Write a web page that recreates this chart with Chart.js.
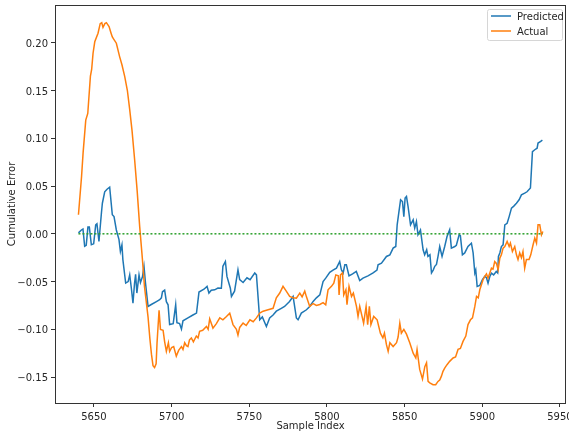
<!DOCTYPE html>
<html>
<head>
<meta charset="utf-8">
<script src="https://cdn.jsdelivr.net/npm/chart.js@4.4.0/dist/chart.umd.min.js"></script>
<style>
  html, body { margin: 0; padding: 0; background: #fff; }
  #wrap { width: 569px; height: 432px; }
</style>
</head>
<body>
<div id="wrap"><canvas id="errChart" width="569" height="432"></canvas></div>
<script>
// values
const predictedIdx = [5640, 5641.9, 5642.9, 5644, 5645, 5646.1, 5647, 5648.3, 5649.8, 5651.1, 5651.9, 5653.2, 5654.8, 5655.4, 5656.9, 5658.4, 5660.1, 5661.8, 5662.9, 5664.4, 5666.1, 5667, 5668, 5668.6, 5670.4, 5672, 5673, 5674.1, 5675.1, 5676.1, 5676.8, 5677.6, 5679, 5679.9, 5681.2, 5682.2, 5683.2, 5684.8, 5686.9, 5690.2, 5692.3, 5693.4, 5694.1, 5695.5, 5696.6, 5697.7, 5698.7, 5701, 5702.6, 5703.4, 5705.1, 5706.3, 5707.3, 5710.5, 5713.7, 5716, 5717.6, 5720.8, 5722.8, 5724, 5725.5, 5727.7, 5729.8, 5732, 5733, 5734.6, 5735.6, 5737.8, 5738.5, 5740.5, 5742.7, 5743.8, 5746, 5748.5, 5750.5, 5753.5, 5754.6, 5756.7, 5758.4, 5761, 5763.1, 5765.3, 5767.4, 5770.6, 5772.7, 5775.9, 5778.2, 5780.3, 5781.4, 5783.5, 5786.8, 5788.9, 5791.1, 5793.2, 5795.4, 5797.5, 5799.2, 5801.8, 5803.9, 5806.1, 5808.2, 5809.3, 5810.4, 5811.5, 5812.5, 5814.2, 5816.5, 5818.9, 5821.1, 5823.2, 5826.4, 5829.7, 5832.2, 5832.9, 5835.1, 5838.3, 5840.5, 5842.6, 5844.3, 5845.2, 5846.5, 5847.4, 5848.6, 5849.5, 5850.3, 5851.2, 5852.2, 5853.8, 5855.5, 5856.5, 5857.6, 5858.6, 5860.2, 5861.9, 5862.9, 5864.2, 5865, 5866.3, 5867.3, 5868.4, 5869.4, 5870.5, 5871.5, 5872.6, 5874.1, 5875.8, 5877.3, 5879, 5880.1, 5882.3, 5883.3, 5885.1, 5885.9, 5887.2, 5888.7, 5890.8, 5893, 5894.1, 5895.2, 5895.8, 5896.7, 5898.4, 5900.1, 5901.6, 5902.7, 5903.7, 5904.8, 5905.9, 5907.3, 5909, 5909.9, 5910.4, 5911.3, 5912.3, 5913.4, 5914.5, 5916, 5917.3, 5918.8, 5920.3, 5922, 5923.7, 5925.2, 5927.3, 5928.8, 5931, 5932.3, 5933.8, 5935.3, 5935.9, 5937.4, 5938.7];
const predictedErr = [0.001, 0.004, 0.005, -0.013, -0.012, 0.007, 0.007, -0.0115, -0.0105, 0.0094, 0.0105, -0.008, 0.022, 0.032, 0.044, 0.0467, 0.0488, 0.020, 0.018, 0.004, -0.006, -0.0185, -0.0115, -0.027, -0.0516, -0.050, -0.043, -0.0575, -0.0725, -0.052, -0.0425, -0.062, -0.043, -0.051, -0.045, -0.034, -0.052, -0.076, -0.074, -0.071, -0.069, -0.067, -0.0607, -0.059, -0.071, -0.0743, -0.095, -0.094, -0.0743, -0.093, -0.094, -0.0997, -0.091, -0.088, -0.085, -0.083, -0.061, -0.058, -0.055, -0.062, -0.059, -0.0586, -0.0568, -0.057, -0.034, -0.029, -0.0446, -0.057, -0.0656, -0.060, -0.0377, -0.048, -0.051, -0.046, -0.048, -0.041, -0.043, -0.090, -0.087, -0.097, -0.088, -0.085, -0.081, -0.078, -0.076, -0.0708, -0.0656, -0.088, -0.090, -0.083, -0.0795, -0.076, -0.0708, -0.067, -0.064, -0.050, -0.0464, -0.0404, -0.038, -0.036, -0.029, -0.0377, -0.041, -0.0324, -0.0324, -0.044, -0.042, -0.0394, -0.0489, -0.0464, -0.044, -0.041, -0.038, -0.0324, -0.0307, -0.0237, -0.022, -0.015, -0.0133, 0.0094, 0.025, 0.0356, 0.0338, 0.018, 0.0373, 0.039, 0.0286, 0.0094, 0.0146, 0.006, 0.0129, -0.001, 0.004, -0.0167, -0.022, -0.0167, -0.0237, -0.022, -0.041, -0.038, -0.034, -0.032, -0.0237, -0.0133, -0.0237, -0.0133, -0.0028, 0.0042, -0.015, -0.0133, -0.012, -0.001, -0.002, -0.022, -0.020, -0.0133, -0.0098, -0.020, -0.041, -0.038, -0.055, -0.054, -0.048, -0.0446, -0.046, -0.0516, -0.045, -0.0412, -0.043, -0.0394, -0.041, -0.0237, -0.020, -0.0133, -0.0115, 0.0094, 0.011, 0.018, 0.0269, 0.029, 0.032, 0.0356, 0.0408, 0.0425, 0.044, 0.048, 0.086, 0.088, 0.0896, 0.095, 0.0966, 0.098];

const actualIdx = [5640, 5642, 5643, 5644.7, 5646, 5647.7, 5648.5, 5649.4, 5650.5, 5652.6, 5654, 5655, 5655.8, 5657, 5658, 5659.7, 5661, 5661.8, 5663, 5664.4, 5666.5, 5668, 5669.8, 5671.5, 5673, 5674.5, 5676.2, 5677.8, 5679.4, 5681.2, 5682.5, 5684.8, 5686, 5687, 5688, 5689, 5690, 5690.6, 5691.9, 5692.8, 5694.5, 5695.5, 5696.6, 5697.9, 5698.7, 5700, 5701.3, 5703, 5704.5, 5706.3, 5707.3, 5708.4, 5709.5, 5710.5, 5711.5, 5712.7, 5714, 5715.9, 5717, 5718, 5720, 5722.4, 5723.5, 5724.5, 5726.6, 5728.8, 5731, 5733, 5735.3, 5737.4, 5739.5, 5741.7, 5742.7, 5743.8, 5746, 5748, 5750.4, 5752.5, 5754.6, 5756.7, 5758.9, 5762.1, 5765.3, 5767.4, 5769.6, 5771.7, 5773.8, 5776, 5778.1, 5780.3, 5782.5, 5784, 5785.7, 5786.8, 5788.9, 5791.1, 5793.2, 5795.4, 5797.5, 5799.2, 5800.7, 5802.9, 5804.4, 5805.7, 5807.3, 5807.8, 5808.7, 5810, 5810.8, 5812.2, 5812.9, 5814.2, 5815.8, 5817, 5819, 5820, 5821.1, 5823.6, 5825.2, 5826.2, 5827.3, 5828.3, 5830.1, 5832.3, 5834.4, 5836, 5837, 5838.3, 5839.4, 5840.5, 5842.6, 5844.8, 5845.8, 5846.9, 5847.9, 5849.5, 5851.2, 5853.3, 5855.5, 5857.2, 5858, 5859.7, 5861.5, 5863, 5864.1, 5865.1, 5866.2, 5868.3, 5870, 5871.5, 5872.6, 5873.7, 5874.7, 5875.8, 5877.3, 5879, 5881.2, 5882.8, 5884.4, 5885.9, 5887.6, 5889.4, 5890.8, 5892.4, 5893.7, 5895.2, 5896.3, 5897.4, 5898.4, 5899.5, 5900.5, 5901.6, 5902.7, 5903.7, 5905.9, 5906.9, 5908, 5909.1, 5910.2, 5911.3, 5912.3, 5913.4, 5914.5, 5916, 5917.3, 5918.1, 5919.4, 5920.9, 5922, 5923, 5924.1, 5925.2, 5926.2, 5927.3, 5928.4, 5930.1, 5931.2, 5932.7, 5933.8, 5934.9, 5935.9, 5937, 5938.1, 5939];
const actualErr = [0.020, 0.060, 0.085, 0.119, 0.126, 0.165, 0.172, 0.189, 0.201, 0.210, 0.220, 0.221, 0.216, 0.220, 0.221, 0.217, 0.210, 0.206, 0.203, 0.1995, 0.1855, 0.177, 0.1645, 0.150, 0.130, 0.108, 0.077, 0.045, 0.008, -0.027, -0.055, -0.087, -0.110, -0.126, -0.138, -0.140, -0.136, -0.114, -0.080, -0.100, -0.101, -0.113, -0.123, -0.114, -0.123, -0.119, -0.118, -0.128, -0.122, -0.118, -0.121, -0.114, -0.117, -0.118, -0.111, -0.109, -0.113, -0.107, -0.109, -0.102, -0.101, -0.097, -0.100, -0.089, -0.0987, -0.094, -0.088, -0.090, -0.0865, -0.083, -0.095, -0.100, -0.106, -0.098, -0.0935, -0.096, -0.090, -0.092, -0.088, -0.083, -0.081, -0.0795, -0.078, -0.067, -0.062, -0.055, -0.060, -0.0656, -0.067, -0.0673, -0.062, -0.066, -0.060, -0.066, -0.076, -0.073, -0.075, -0.074, -0.072, -0.0743, -0.0586, -0.055, -0.0516, -0.043, -0.044, -0.064, -0.043, -0.041, -0.064, -0.0586, -0.0743, -0.055, -0.0656, -0.062, -0.076, -0.0865, -0.076, -0.0935, -0.076, -0.095, -0.076, -0.095, -0.0865, -0.090, -0.104, -0.109, -0.104, -0.116, -0.123, -0.114, -0.118, -0.114, -0.108, -0.0935, -0.104, -0.100, -0.105, -0.114, -0.125, -0.130, -0.121, -0.142, -0.152, -0.139, -0.135, -0.1545, -0.156, -0.158, -0.158, -0.1545, -0.153, -0.149, -0.144, -0.1405, -0.137, -0.1335, -0.130, -0.129, -0.121, -0.120, -0.1126, -0.107, -0.095, -0.090, -0.088, -0.076, -0.0656, -0.067, -0.0586, -0.053, -0.048, -0.0446, -0.042, -0.0464, -0.036, -0.037, -0.029, -0.031, -0.0377, -0.0254, -0.022, -0.015, -0.0133, -0.008, -0.0133, -0.0098, -0.0185, -0.0133, -0.022, -0.027, -0.020, -0.025, -0.0185, -0.036, -0.027, -0.027, -0.022, -0.0115, -0.0045, -0.0098, 0.0094, 0.0094, -0.001, 0.0024];

const zeroIdx = [5640, 5939];
const zeroErr = [0, 0];

const xTicks = [5650, 5700, 5750, 5800, 5850, 5900, 5950];
const yTicks = [-0.15, -0.10, -0.05, 0.00, 0.05, 0.10, 0.15, 0.20];

const toPoints = (xs, ys) => xs.map((x, i) => ({ x: x, y: ys[i] }));

const FONT = "'DejaVu Sans', sans-serif";
const TEXT = '#262626';

// matplotlib-style frame plus the boxed legend
const framePlugin = {
  id: 'frame',
  afterDraw(chart) {
    const ctx = chart.ctx;
    const a = chart.chartArea;
    ctx.save();
    ctx.strokeStyle = '#333';
    ctx.lineWidth = 1;
    ctx.strokeRect(Math.round(a.left) + 0.5, Math.round(a.top) + 0.5,
      Math.round(a.right - a.left) - 1, Math.round(a.bottom - a.top));

    // legend box
    const bx = 487, by = 9, bw = 75, bh = 31;
    ctx.fillStyle = 'rgba(255,255,255,0.8)';
    ctx.strokeStyle = '#d6d6d6';
    ctx.beginPath();
    ctx.roundRect(bx + 0.5, by + 0.5, bw, bh, 2);
    ctx.fill();
    ctx.stroke();
    const items = chart.data.datasets.filter(d => d.label !== 'zero');
    ctx.font = '10px ' + FONT;
    ctx.textBaseline = 'middle';
    items.forEach((d, i) => {
      const y = by + 7 + i * 15;
      ctx.strokeStyle = d.borderColor;
      ctx.lineWidth = 1.5;
      ctx.beginPath();
      ctx.moveTo(bx + 4, y);
      ctx.lineTo(bx + 24, y);
      ctx.stroke();
      ctx.fillStyle = TEXT;
      ctx.fillText(d.label, bx + 30, y + 1);
    });
    ctx.restore();
  }
};

new Chart(document.getElementById('errChart').getContext('2d'), {
  type: 'line',
  data: {
    datasets: [
      {
        label: 'Predicted',
        data: toPoints(predictedIdx, predictedErr),
        borderColor: '#1f77b4',
        borderWidth: 1.5,
        pointRadius: 0,
        tension: 0,
        order: 2
      },
      {
        label: 'Actual',
        data: toPoints(actualIdx, actualErr),
        borderColor: '#ff7f0e',
        borderWidth: 1.5,
        pointRadius: 0,
        tension: 0,
        order: 1
      },
      {
        label: 'zero',
        data: toPoints(zeroIdx, zeroErr),
        borderColor: '#2ca02c',
        borderWidth: 1.5,
        borderDash: [2, 2],
        pointRadius: 0,
        order: 0
      }
    ]
  },
  options: {
    responsive: false,
    animation: false,
    layout: { padding: { top: 5, right: 3, left: 0, bottom: 0 } },
    plugins: {
      legend: { display: false },
      tooltip: { enabled: false }
    },
    scales: {
      x: {
        type: 'linear',
        min: 5624.9,
        max: 5953.9,
        afterBuildTicks: s => { s.ticks = xTicks.map(v => ({ value: v })); },
        afterFit: s => { s.height = 29; s.paddingLeft = 0; s.paddingRight = 0; },
        grid: { drawOnChartArea: false, drawTicks: true, tickLength: 4, tickColor: '#333' },
        border: { display: false },
        ticks: {
          font: { family: FONT, size: 10 },
          color: TEXT,
          padding: 4,
          maxRotation: 0,
          callback: v => String(v)
        },
        title: {
          display: true,
          text: 'Sample Index',
          font: { family: FONT, size: 10 },
          color: TEXT,
          padding: { top: 0, bottom: 0 }
        }
      },
      y: {
        type: 'linear',
        min: -0.1771,
        max: 0.2395,
        afterBuildTicks: s => { s.ticks = yTicks.map(v => ({ value: v })); },
        afterFit: s => { s.width = 55; s.paddingTop = 0; s.paddingBottom = 0; },
        grid: { drawOnChartArea: false, drawTicks: true, tickLength: 4, tickColor: '#333' },
        border: { display: false },
        ticks: {
          font: { family: FONT, size: 10 },
          color: TEXT,
          padding: 3,
          labelOffset: 1.5,
          callback: v => v.toFixed(2).replace('-', '\u2212')
        },
        title: {
          display: true,
          text: 'Cumulative Error',
          font: { family: FONT, size: 10 },
          color: TEXT,
          padding: { top: 6, bottom: 0 }
        }
      }
    }
  },
  plugins: [framePlugin]
});
</script>
</body>
</html>
